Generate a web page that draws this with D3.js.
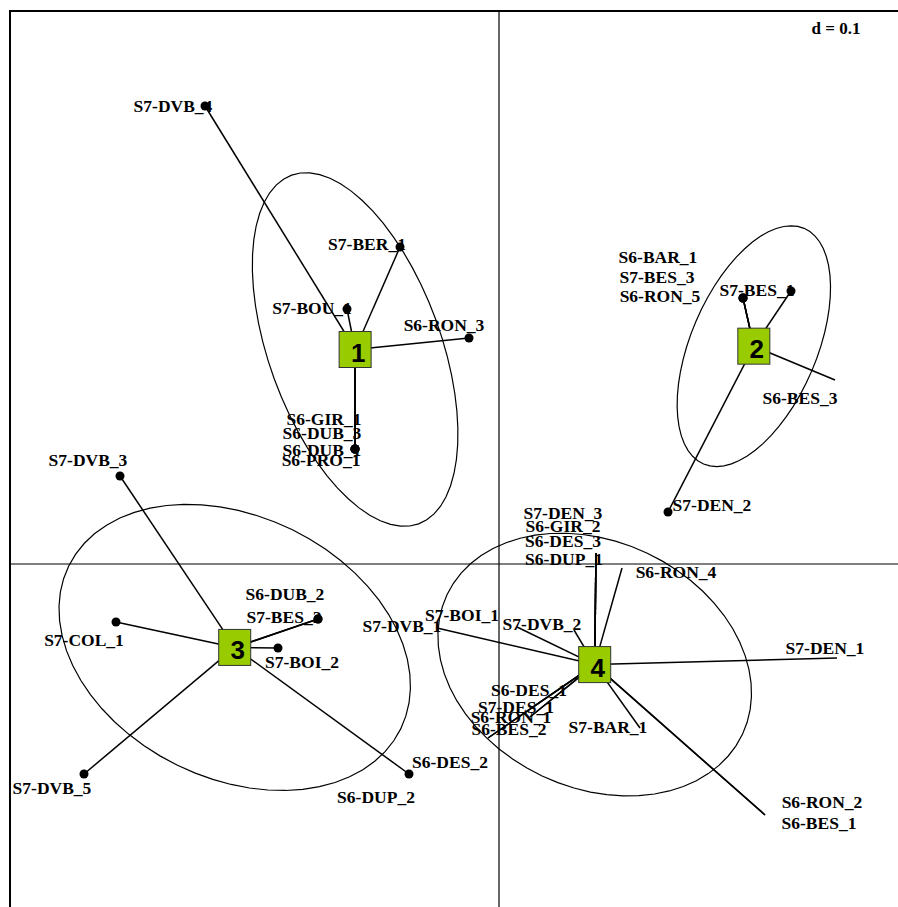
<!DOCTYPE html>
<html>
<head>
<meta charset="utf-8">
<script src="https://d3js.org/d3.v7.min.js"></script>
<style>
body { margin: 0; background: #fff; }
</style>
</head>
<body>
<script>
// classes (centroid labels)
const groups = ["1", "2", "3", "4"];

// individuals: name, class, coordinates
const names = [
    "S7-DVB_4", "S7-BER_1", "S7-BOU_1", "S6-RON_3", "S6-GIR_1", "S6-DUB_3", "S6-DUB_1", "S6-PRO_1",
    "S6-BAR_1", "S7-BES_3", "S6-RON_5", "S7-BES_1", "S6-BES_3", "S7-DEN_2",
    "S7-DVB_3", "S7-COL_1", "S6-DUB_2", "S7-BES_2", "S7-BOI_2", "S7-DVB_5", "S6-DUP_2",
    "S7-DEN_3", "S6-GIR_2", "S6-DES_3", "S6-DUP_1", "S6-RON_4", "S7-DVB_2", "S7-DVB_1", "S7-BOI_1",
    "S7-DEN_1", "S6-RON_2", "S6-BES_1", "S7-BAR_1", "S6-DES_1", "S7-DES_1", "S6-RON_1", "S6-BES_2", "S6-DES_2"
];
const cls = [
    "1", "1", "1", "1", "1", "1", "1", "1",
    "2", "2", "2", "2", "2", "2",
    "3", "3", "3", "3", "3", "3", "3",
    "4", "4", "4", "4", "4", "4", "4", "4",
    "4", "4", "4", "4", "4", "4", "4", "4", "4"
];
const xs = [
    -0.588, -0.198, -0.304, -0.060, -0.288, -0.288, -0.288, -0.288,
    0.488, 0.488, 0.488, 0.584, 0.672, 0.338,
    -0.758, -0.766, -0.362, -0.362, -0.442, -0.830, -0.180,
    0.194, 0.194, 0.194, 0.194, 0.246, 0.150, -0.124, 0.036,
    0.676, 0.532, 0.532, 0.282, 0.068, 0.062, 0.062, -0.022, -0.022
];
const ys = [
    0.916, 0.634, 0.510, 0.452, 0.230, 0.230, 0.230, 0.230,
    0.532, 0.532, 0.532, 0.546, 0.368, 0.104,
    0.176, -0.116, -0.110, -0.110, -0.168, -0.420, -0.420,
    0.022, 0.022, 0.022, 0.022, -0.008, -0.132, -0.128, -0.126,
    -0.188, -0.502, -0.502, -0.328, -0.286, -0.306, -0.306, -0.348, -0.348
];
// where each label was placed (same units as the coordinates)
const labelXs = [
    -0.652, -0.264, -0.374, -0.110, -0.350, -0.354, -0.354, -0.356,
    0.318, 0.316, 0.322, 0.516, 0.602, 0.426,
    -0.822, -0.830, -0.428, -0.430, -0.394, -0.894, -0.246,
    0.128, 0.128, 0.128, 0.130, 0.354, 0.086, -0.194, -0.074,
    0.652, 0.646, 0.640, 0.218, 0.060, 0.034, 0.024, 0.020, -0.098
];
const labelYs = [
    0.916, 0.640, 0.512, 0.478, 0.290, 0.262, 0.228, 0.208,
    0.614, 0.574, 0.536, 0.548, 0.332, 0.118,
    0.208, -0.152, -0.060, -0.106, -0.196, -0.448, -0.466,
    0.102, 0.076, 0.046, 0.010, -0.016, -0.120, -0.124, -0.102,
    -0.168, -0.476, -0.518, -0.326, -0.252, -0.286, -0.306, -0.330, -0.396
];
// individuals whose marker is not visible in the figure
const noMarker = ["S6-BES_3", "S7-DEN_3", "S6-GIR_2", "S6-DES_3", "S6-DUP_1", "S6-RON_4", "S7-DVB_2",
    "S7-DVB_1", "S7-BOI_1", "S7-DEN_1", "S6-RON_2", "S6-BES_1", "S7-BAR_1", "S6-DES_1", "S7-DES_1",
    "S6-RON_1", "S6-BES_2", "S6-DES_2"];

const gridText = "d = 0.1";

const width = 898;
const height = 907;

const x = d3.scaleLinear().domain([-0.978, 0.802]).range([10, 900]);
const y = d3.scaleLinear().domain([-0.70, 1.106]).range([914, 11]);

const svg = d3.select("body").append("svg")
    .attr("width", width)
    .attr("height", height);

const pts = names.map((n, i) => ({name: n, cls: cls[i], x: xs[i], y: ys[i], lx: labelXs[i], ly: labelYs[i]}));

// frame and axes
svg.append("rect")
    .attr("x", x(-0.978)).attr("y", y(1.106))
    .attr("width", x(0.802) - x(-0.978)).attr("height", y(-0.70) - y(1.106))
    .attr("fill", "none").attr("stroke", "black").attr("stroke-width", 2);
svg.append("line")
    .attr("x1", x(0)).attr("x2", x(0)).attr("y1", y(1.106)).attr("y2", y(-0.70))
    .attr("stroke", "black").attr("stroke-width", 1.2);
svg.append("line")
    .attr("x1", x(-0.978)).attr("x2", x(0.802)).attr("y1", y(0)).attr("y2", y(0))
    .attr("stroke", "black").attr("stroke-width", 1.2);

svg.append("text")
    .attr("x", 836).attr("y", 28)
    .attr("text-anchor", "middle")
    .attr("dominant-baseline", "central")
    .attr("font-family", "Liberation Serif")
    .attr("font-weight", "bold")
    .attr("font-size", 17)
    .text(gridText);

// class statistics: mean and covariance (equal weights)
const stats = groups.map(g => {
    const m = pts.filter(p => p.cls === g);
    const mx = d3.mean(m, p => p.x), my = d3.mean(m, p => p.y);
    const vx = d3.mean(m, p => (p.x - mx) ** 2);
    const vy = d3.mean(m, p => (p.y - my) ** 2);
    const cxy = d3.mean(m, p => (p.x - mx) * (p.y - my));
    return {g, mx, my, vx, vy, cxy};
});
const byCls = Object.fromEntries(stats.map(s => [s.g, s]));

// ellipses, 1.5 standard deviation
const ell = d3.line().curve(d3.curveLinearClosed);
stats.forEach(s => {
    const tr = s.vx + s.vy, det = s.vx * s.vy - s.cxy * s.cxy;
    const l1 = tr / 2 + Math.sqrt(tr * tr / 4 - det);
    const l2 = tr / 2 - Math.sqrt(tr * tr / 4 - det);
    const th = 0.5 * Math.atan2(2 * s.cxy, s.vx - s.vy);
    const a = 1.5 * Math.sqrt(l1), b = 1.5 * Math.sqrt(Math.max(l2, 0));
    const poly = d3.range(60).map(k => {
        const t = 2 * Math.PI * k / 60;
        const u = a * Math.cos(t), v = b * Math.sin(t);
        return [x(s.mx + u * Math.cos(th) - v * Math.sin(th)),
                y(s.my + u * Math.sin(th) + v * Math.cos(th))];
    });
    svg.append("path")
        .attr("d", ell(poly))
        .attr("fill", "none")
        .attr("stroke", "black")
        .attr("stroke-width", 1.2);
});

// stars
svg.append("g")
    .attr("stroke", "black")
    .attr("stroke-width", 1.5)
    .selectAll("line")
    .data(pts)
    .join("line")
    .attr("x1", d => x(byCls[d.cls].mx))
    .attr("y1", d => y(byCls[d.cls].my))
    .attr("x2", d => x(d.x))
    .attr("y2", d => y(d.y));

// points
svg.append("g")
    .selectAll("circle")
    .data(pts.filter(p => !noMarker.includes(p.name)))
    .join("circle")
    .attr("cx", d => x(d.x))
    .attr("cy", d => y(d.y))
    .attr("r", 4.5)
    .attr("fill", "black");

// labels
svg.append("g")
    .attr("font-family", "Liberation Serif")
    .attr("font-weight", "bold")
    .attr("font-size", 17.5)
    .selectAll("text")
    .data(pts)
    .join("text")
    .attr("x", d => x(d.lx))
    .attr("y", d => y(d.ly))
    .attr("text-anchor", "middle")
    .attr("dominant-baseline", "central")
    .text(d => d.name);

// class boxes
const box = svg.append("g")
    .selectAll("g")
    .data(stats)
    .join("g")
    .attr("transform", d => "translate(" + x(d.mx) + "," + y(d.my) + ")");
box.append("rect")
    .attr("x", -16).attr("y", -18)
    .attr("width", 32).attr("height", 36)
    .attr("fill", "#99cc00")
    .attr("stroke", "#333")
    .attr("stroke-width", 1);
box.append("text")
    .attr("x", 3).attr("y", 3)
    .attr("text-anchor", "middle")
    .attr("dominant-baseline", "central")
    .attr("font-family", "Liberation Sans")
    .attr("font-weight", "bold")
    .attr("font-size", 26)
    .attr("fill", "black")
    .text(d => d.g);
</script>
</body>
</html>
